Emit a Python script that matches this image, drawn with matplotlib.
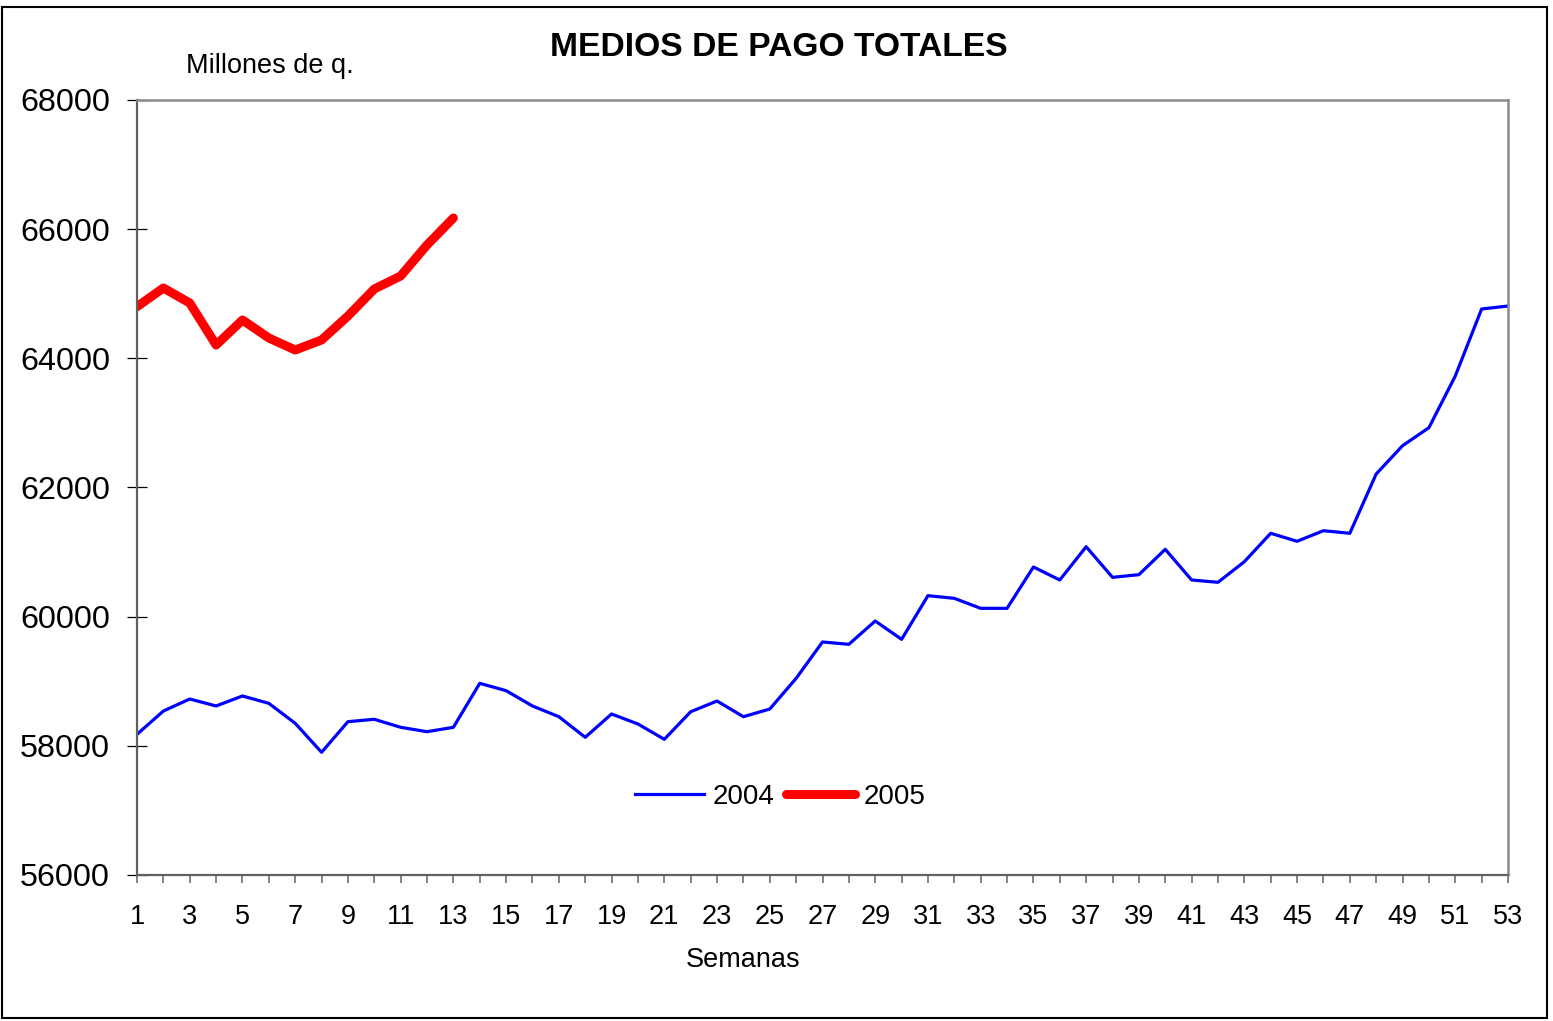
import matplotlib.pyplot as plt
from matplotlib.patches import Rectangle

plt.rcParams['font.family'] = ['Liberation Sans', 'DejaVu Sans']

semanas = list(range(1, 54))

# medios de pago 2004 (millones de q.)
medios_2004 = [58178, 58539, 58725, 58617, 58772, 58658, 58349, 57900, 58374, 58411,
               58287, 58219, 58287, 58968, 58854, 58617, 58451, 58132, 58493, 58338,
               58101, 58528, 58694, 58451, 58570, 59045, 59608, 59572, 59933, 59649,
               60325, 60284, 60129, 60129, 60769, 60568, 61083, 60609, 60650, 61043,
               60568, 60532, 60851, 61291, 61167, 61331, 61291, 62209, 62647, 62926,
               63726, 64764, 64810]

# 2005 solo hasta la semana 13
medios_2005 = [64800, 65089, 64857, 64206, 64594, 64315, 64129, 64284, 64655, 65074,
               65275, 65755, 66173]

ticks_y = [56000, 58000, 60000, 62000, 64000, 66000, 68000]

fig = plt.figure(figsize=(15.53, 10.21), dpi=100)
ax = fig.add_axes([137/1553, 1-875/1021, (1508-137)/1553, (875-100)/1021])

ax.plot(semanas, medios_2004, color='#0000ff', linewidth=2.3, label='2004')
ax.plot(semanas[:len(medios_2005)], medios_2005, color='#ff0000', linewidth=6.5,
        solid_capstyle='round', label='2005')

ax.set_xlim(1, 53)
ax.set_ylim(56000, 68000)
ax.set_xticks(semanas)
ax.set_xticklabels([str(s) if s % 2 == 1 else '' for s in semanas], fontsize=19.5)
ax.set_yticks(ticks_y)
ax.set_yticklabels([str(t) for t in ticks_y], fontsize=23.3)

ax.tick_params(axis='y', direction='inout', length=15, width=0.9, color='black', pad=12)
ax.tick_params(axis='x', direction='out', length=6, width=1.2, color='#707070', pad=15)

for lado in ['top', 'right']:
    ax.spines[lado].set_color('#8a8a8a')
    ax.spines[lado].set_linewidth(1.8)
for lado in ['left', 'bottom']:
    ax.spines[lado].set_color('#606060')
    ax.spines[lado].set_linewidth(1.6)

fig.text(779/1553, 1-47/1021, 'MEDIOS DE PAGO TOTALES', fontsize=24.2, fontweight='bold',
         ha='center', va='center')
fig.text(270/1553, 1-66/1021, 'Millones de q.', fontsize=19.5, ha='center', va='center')
fig.text(743/1553, 1-960/1021, 'Semanas', fontsize=19.5, ha='center', va='center')

fig.legend(loc='center', bbox_to_anchor=(780/1553, 1-797/1021), ncol=2, frameon=False,
           fontsize=20, handlelength=2.5, handletextpad=0.3, columnspacing=0.4)

# marco exterior
fig.patches.append(Rectangle((2/1553, 1-1018/1021), 1545/1553, 1011/1021,
                             transform=fig.transFigure, fill=False,
                             edgecolor='black', linewidth=1.5))

plt.savefig('out.png', dpi=100)
